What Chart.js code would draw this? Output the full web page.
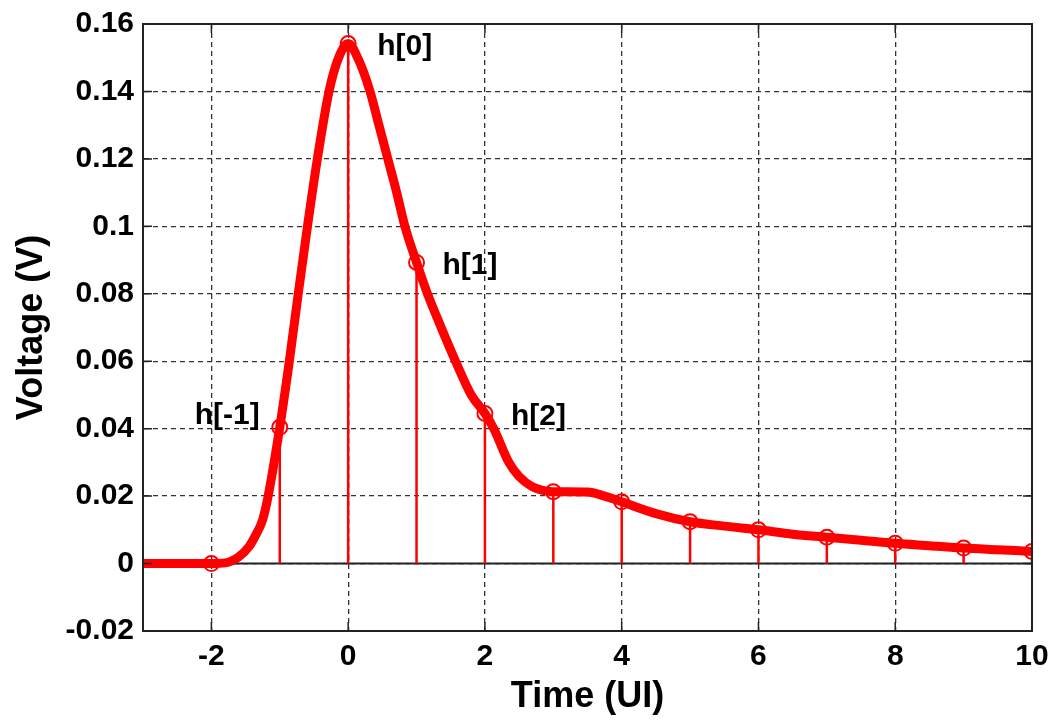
<!DOCTYPE html>
<html>
<head>
<meta charset="utf-8">
<script src="https://cdn.jsdelivr.net/npm/chart.js@4/dist/chart.umd.min.js"></script>
<style>
html,body{margin:0;padding:0;background:#fff;}
#wrap{width:1052px;height:721px;}
</style>
</head>
<body>
<div id="wrap"><canvas id="c" width="1052" height="721"></canvas></div>
<script>
// Continuous pulse response
const curveX = [-3, -2.5, -2, -1.8, -1.6, -1.45, -1.35, -1.25, -1.17, -1.0, -0.86, -0.73, -0.595, -0.45, -0.28, -0.14, 0, 0.15, 0.32, 0.45, 0.58, 0.71, 0.83, 1.0, 1.16, 1.36, 1.57, 1.8, 2.0, 2.13, 2.35, 2.5, 2.69, 2.85, 3.0, 3.5, 3.75, 4.0, 4.5, 5.0, 5.5, 6.0, 6.5, 7.0, 7.5, 8.0, 8.5, 9.0, 9.5, 10];
const curveY = [0, 0, 0, 0.0002, 0.002, 0.005, 0.0085, 0.013, 0.020, 0.0404, 0.060, 0.080, 0.100, 0.120, 0.140, 0.1500, 0.1542, 0.1495, 0.140, 0.130, 0.120, 0.110, 0.100, 0.0893, 0.080, 0.070, 0.060, 0.050, 0.0445, 0.040, 0.030, 0.0258, 0.0228, 0.0217, 0.0213, 0.0212, 0.0200, 0.0183, 0.0148, 0.0124, 0.0111, 0.0100, 0.0087, 0.0078, 0.0069, 0.0060, 0.0053, 0.0046, 0.0041, 0.0036];

// Sampled cursors h[n]
const sampleX = [-2, -1, 0, 1, 2, 3, 4, 5, 6, 7, 8, 9, 10];
const sampleY = [0, 0.0404, 0.1542, 0.0893, 0.0445, 0.0213, 0.0183, 0.0124, 0.0100, 0.0078, 0.0060, 0.0046, 0.0036];

// Annotated cursors
const annotX = [-1, 0, 1, 2];
const annotText = ['h[-1]', 'h[0]', 'h[1]', 'h[2]'];

// Axes
const xTicks = [-2, 0, 2, 4, 6, 8, 10];
const yTicks = [-0.02, 0, 0.02, 0.04, 0.06, 0.08, 0.1, 0.12, 0.14, 0.16];
const yTickLabels = ['-0.02', '0', '0.02', '0.04', '0.06', '0.08', '0.1', '0.12', '0.14', '0.16'];
const xTickLabels = ['-2', '0', '2', '4', '6', '8', '10'];
const baselineX = [-3, 10];

const RED = '#ff0000';
const FONT = '"Liberation Sans", Arial, Helvetica, sans-serif';

const curveData = curveX.map((x, i) => ({x, y: curveY[i]}));
const sampleData = sampleX.map((x, i) => ({x, y: sampleY[i]}));
const stemData = [];
sampleX.forEach((x, i) => { stemData.push({x, y: 0}, {x, y: sampleY[i]}, {x, y: null}); });
const baselineData = baselineX.map(x => ({x, y: 0}));

const boxPlugin = {
  id: 'boxPlugin',
  afterDraw(chart) {
    const {ctx, chartArea: a, scales} = chart;
    ctx.save();
    ctx.strokeStyle = '#222';
    ctx.lineWidth = 2;
    ctx.setLineDash([]);
    ctx.strokeRect(a.left, a.top, a.right - a.left, a.bottom - a.top);
    ctx.lineWidth = 1.5;
    ctx.beginPath();
    const tl = 9;
    scales.x.ticks.forEach(t => {
      const px = scales.x.getPixelForValue(t.value);
      ctx.moveTo(px, a.bottom); ctx.lineTo(px, a.bottom - tl);
      ctx.moveTo(px, a.top); ctx.lineTo(px, a.top + tl);
    });
    scales.y.ticks.forEach(t => {
      const py = scales.y.getPixelForValue(t.value);
      ctx.moveTo(a.left, py); ctx.lineTo(a.left + tl, py);
      ctx.moveTo(a.right, py); ctx.lineTo(a.right - tl, py);
    });
    ctx.stroke();
    // cursor labels
    ctx.fillStyle = '#000';
    ctx.font = 'bold 30px ' + FONT;
    ctx.textBaseline = 'middle';
    annotX.forEach((xv, k) => {
      const idx = sampleX.indexOf(xv);
      const px = scales.x.getPixelForValue(xv);
      const py = scales.y.getPixelForValue(sampleY[idx]);
      if (xv < 0) {
        ctx.textAlign = 'right';
        ctx.fillText(annotText[k], px - 20, py - 12);
      } else {
        ctx.textAlign = 'left';
        ctx.fillText(annotText[k], px + (xv === 0 ? 29 : 26), py + 3);
      }
    });
    ctx.restore();
  }
};

new Chart(document.getElementById('c'), {
  type: 'scatter',
  data: {
    datasets: [
      {
        label: 'samples', data: sampleData, order: 0,
        showLine: false, pointStyle: 'circle', pointRadius: 7.5, pointHoverRadius: 7.5,
        borderColor: RED, backgroundColor: 'rgba(0,0,0,0)', borderWidth: 2
      },
      {
        label: 'pulse', data: curveData, order: 1,
        showLine: true, cubicInterpolationMode: 'monotone',
        borderColor: RED, borderWidth: 9, pointRadius: 0, borderCapStyle: 'round', borderJoinStyle: 'round'
      },
      {
        label: 'stems', data: stemData, order: 2,
        showLine: true, spanGaps: false, borderColor: RED, borderWidth: 2.5, pointRadius: 0
      },
      {
        label: 'baseline', data: baselineData, order: 3,
        showLine: true, borderColor: '#222', borderWidth: 2, pointRadius: 0
      }
    ]
  },
  options: {
    responsive: false,
    animation: false,
    devicePixelRatio: 1,
    layout: {padding: {top: 24, right: 20, left: 0, bottom: 0}},
    plugins: {legend: {display: false}, tooltip: {enabled: false}},
    scales: {
      x: {
        type: 'linear', min: -3, max: 10,
        afterBuildTicks: s => { s.ticks = xTicks.map(v => ({value: v})); },
        afterFit: s => { s.height = 90; s.paddingLeft = 0; s.paddingRight = 0; },
        ticks: {
          color: '#000', padding: 8, maxRotation: 0, autoSkip: false,
          font: {family: FONT, size: 30, weight: 'bold'},
          callback: v => xTickLabels[xTicks.indexOf(v)]
        },
        grid: {color: '#333', lineWidth: 1.3, drawTicks: false},
        border: {display: true, color: '#222', width: 2, dash: [5, 4]},
        title: {display: true, text: 'Time (UI)', color: '#000',
          font: {family: FONT, size: 36, weight: 'bold'}, padding: {top: 0, bottom: 2}}
      },
      y: {
        type: 'linear', min: -0.02, max: 0.16,
        afterBuildTicks: s => { s.ticks = yTicks.map(v => ({value: v})); },
        afterFit: s => { s.width = 143; s.paddingTop = 0; s.paddingBottom = 0; },
        ticks: {
          color: '#000', padding: 9, autoSkip: false,
          font: {family: FONT, size: 30, weight: 'bold'},
          callback: v => { const i = yTicks.findIndex(t => Math.abs(t - v) < 1e-9); return i >= 0 ? yTickLabels[i] : ''; }
        },
        grid: {color: '#333', lineWidth: 1.3, drawTicks: false},
        border: {display: true, color: '#222', width: 2, dash: [5, 4]},
        title: {display: true, text: 'Voltage (V)', color: '#000',
          font: {family: FONT, size: 36, weight: 'bold'}, padding: {top: 10, bottom: 0}}
      }
    }
  },
  plugins: [boxPlugin]
});
</script>
</body>
</html>
